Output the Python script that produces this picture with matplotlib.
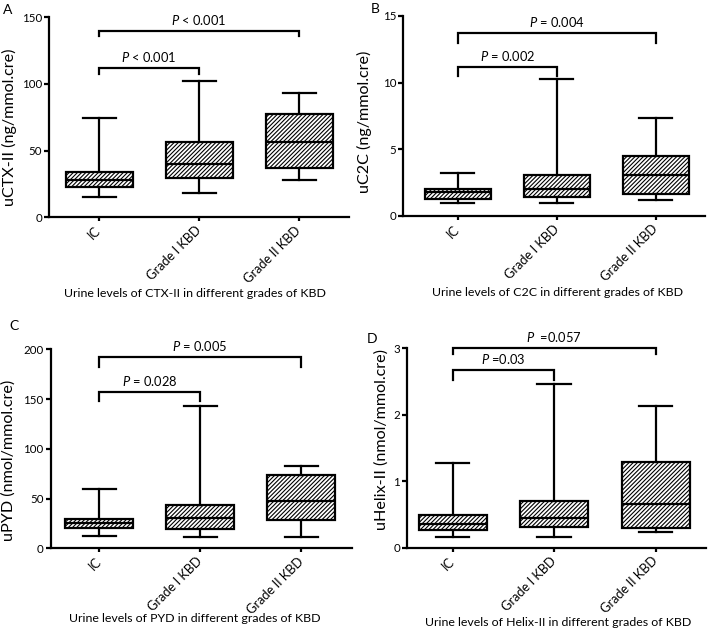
import matplotlib
matplotlib.use("Agg")
import matplotlib.pyplot as plt
from matplotlib.font_manager import FontProperties

plt.rcParams['font.family'] = ['Lato', 'DejaVu Sans']
plt.rcParams['mathtext.fontset'] = 'custom'
plt.rcParams['mathtext.it'] = 'Lato:italic'
plt.rcParams['mathtext.rm'] = 'Lato'
plt.rcParams['hatch.linewidth'] = 0.8

categories = ["IC", "Grade I KBD", "Grade II KBD"]

# Panel A: uCTX-II
a_whislo = [15, 18.5, 27.75]
a_q1 = [23, 29.75, 36.75]
a_med = [28, 40, 56.25]
a_q3 = [33.75, 56.5, 77.5]
a_whishi = [74.5, 102, 93]

# Panel B: uC2C
b_whislo = [0.95, 0.95, 1.2]
b_q1 = [1.28, 1.4, 1.68]
b_med = [1.8, 2.05, 3.05]
b_q3 = [2.03, 3.08, 4.48]
b_whishi = [3.25, 10.3, 7.35]

# Panel C: uPYD
c_whislo = [12.4, 11.7, 11.7]
c_q1 = [20.4, 19.1, 28.1]
c_med = [25.1, 30.2, 47.6]
c_q3 = [29.8, 43.2, 73.7]
c_whishi = [59.3, 143, 83]

# Panel D: uHelix-II
d_whislo = [0.16, 0.16, 0.24]
d_q1 = [0.27, 0.315, 0.305]
d_med = [0.355, 0.445, 0.666]
d_q3 = [0.50, 0.70, 1.29]
d_whishi = [1.28, 2.47, 2.14]

panels = [
    dict(label="A", ylabel="uCTX-II (ng/mmol.cre)",
         xlabel="Urine levels of CTX-II in different grades of KBD",
         stats=(a_whislo, a_q1, a_med, a_q3, a_whishi), ylim=150, yticks=[0, 50, 100, 150],
         br_small=(112.25, 107.5), br_big=(140, 136),
         p_small=r"$P$ < 0.001", p_big=r"$P$ < 0.001",
         px=(49, 17.3, 217.3), unit=100, xlim=(-0.5, 2.5), plabel_xy=(3, 4),
         ylab_xy=(9, 127), xlab_xy=(195, 293)),
    dict(label="B", ylabel="uC2C (ng/mmol.cre)",
         xlabel="Urine levels of C2C in different grades of KBD",
         stats=(b_whislo, b_q1, b_med, b_q3, b_whishi), ylim=15, yticks=[0, 5, 10, 15],
         br_small=(11.15, 10.5), br_big=(13.7, 13.0),
         p_small=r"$P$ = 0.002", p_big=r"$P$ = 0.004",
         px=(403.3, 16, 216), unit=99, xlim=(-0.55, 2.5), plabel_xy=(371, 3),
         ylab_xy=(364, 122), xlab_xy=(558, 292)),
    dict(label="C", ylabel="uPYD (nmol/mmol.cre)",
         xlabel="Urine levels of PYD in different grades of KBD",
         stats=(c_whislo, c_q1, c_med, c_q3, c_whishi), ylim=200, yticks=[0, 50, 100, 150, 200],
         br_small=(157, 148), br_big=(192, 182),
         p_small=r"$P$ = 0.028", p_big=r"$P$ = 0.005",
         px=(50.7, 349.3, 548.3), unit=101, xlim=(-0.48, 2.5), plabel_xy=(9, 320),
         ylab_xy=(9, 460), xlab_xy=(195, 618)),
    dict(label="D", ylabel="uHelix-II (nmol/mmol.cre)",
         xlabel="Urine levels of Helix-II in different grades of KBD",
         stats=(d_whislo, d_q1, d_med, d_q3, d_whishi), ylim=3, yticks=[0, 1, 2, 3],
         br_small=(2.67, 2.53), br_big=(3.01, 2.91),
         p_small=r"$P$ =0.03", p_big=r"$P$  =0.057",
         px=(407, 348.3, 548), unit=101.5, xlim=(-0.45, 2.5), plabel_xy=(367, 333),
         ylab_xy=(382, 440), xlab_xy=(558, 622)),
]

W, H = 709, 633
fig = plt.figure(figsize=(W / 100, H / 100), dpi=100)
renderer = fig.canvas.get_renderer()


def fit(text, target_px, ismath=False):
    fp = FontProperties(family=['Lato'], size=10)
    w, h, d = renderer.get_text_width_height_descent(text, fp, ismath=ismath)
    return 10 * target_px / w


fs_xlabel = fit("Urine levels of CTX-II in different grades of KBD", 262)
fs_ylabel = fit("uCTX-II (ng/mmol.cre)", 157)
fs_ytick = fit("100", 20)
fs_xtick = fit("Grade II KBD", 75)
fs_p = fit(r"$P$ < 0.001", 55, ismath=True)

LW = 1.6

for p in panels:
    left, ytop, ybot = p["px"]
    x0, x1 = p["xlim"]
    width_px = (x1 - x0) * p["unit"]
    ax = fig.add_axes([left / W, 1 - ybot / H, width_px / W, (ybot - ytop) / H])
    wl, q1, med, q3, wh = p["stats"]
    bstats = []
    for i, c in enumerate(categories):
        bstats.append(dict(label=c, whislo=wl[i], q1=q1[i], med=med[i], q3=q3[i],
                           whishi=wh[i], fliers=[]))
    ax.bxp(bstats, positions=[0, 1, 2], widths=0.67, capwidths=0.33,
           patch_artist=True, showfliers=False,
           boxprops=dict(facecolor="white", edgecolor="black", linewidth=LW, hatch="////////"),
           medianprops=dict(color="black", linewidth=LW),
           whiskerprops=dict(color="black", linewidth=LW),
           capprops=dict(color="black", linewidth=LW))
    ax.set_xlim(x0, x1)
    ax.set_ylim(0, p["ylim"])
    ax.set_yticks(p["yticks"])
    ax.set_xticks([0, 1, 2])
    ax.set_xticklabels(categories, rotation=45, ha="right", va="center",
                       rotation_mode="anchor", fontsize=fs_xtick)
    ax.tick_params(axis="y", labelsize=fs_ytick, width=LW, length=3.5, pad=1.5)
    ax.tick_params(axis="x", width=LW, length=3, pad=5)
    for s in ("top", "right"):
        ax.spines[s].set_visible(False)
    for s in ("left", "bottom"):
        ax.spines[s].set_linewidth(LW)
    ax.set_ylabel(p["ylabel"], fontsize=fs_ylabel, va="center")
    ax.yaxis.set_label_coords(p["ylab_xy"][0] / W, 1 - p["ylab_xy"][1] / H,
                              transform=fig.transFigure)
    ax.set_xlabel(p["xlabel"], fontsize=fs_xlabel, va="center")
    ax.xaxis.set_label_coords(p["xlab_xy"][0] / W, 1 - p["xlab_xy"][1] / H,
                              transform=fig.transFigure)
    # significance brackets
    for (ytopb, yend), xa, xb, txt in [(p["br_small"], 0, 1, p["p_small"]),
                                        (p["br_big"], 0, 2, p["p_big"])]:
        ax.plot([xa, xa, xb, xb], [yend, ytopb, ytopb, yend], color="black",
                linewidth=LW, clip_on=False, solid_joinstyle="miter")
        ax.text((xa + xb) / 2, ytopb + p["ylim"] * 0.02, txt, ha="center", va="bottom",
                fontsize=fs_p, clip_on=False)
    fig.text(p["plabel_xy"][0] / W, 1 - p["plabel_xy"][1] / H, p["label"],
             ha="left", va="top", fontsize=10)

fig.savefig("out.png", dpi=100)
